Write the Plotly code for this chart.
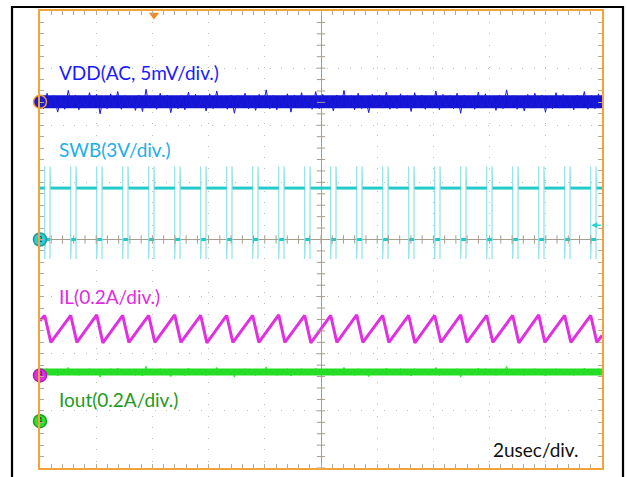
import plotly.graph_objects as go
import numpy as np

# ---- axes: time in µs (2 µs/div, 10 div), vertical in divisions (8 div)
X_RANGE = [-10, 10]
Y_RANGE = [-4, 4]

# ---- SWB switching edges (µs)
swb_fall = [-9.833, -8.907, -7.982, -7.057, -6.132, -5.206, -4.281, -3.356, -2.431, -1.505, -0.580,
            0.345, 1.270, 2.196, 3.121, 4.046, 4.971, 5.897, 6.822, 7.747, 8.672, 9.598]
swb_rise = [-9.644, -8.718, -7.793, -6.868, -5.943, -5.017, -4.092, -3.167, -2.242, -1.316, -0.391,
            0.534, 1.459, 2.385, 3.310, 4.235, 5.160, 6.086, 7.011, 7.936, 8.861, 9.787]
SWB_HIGH = 0.90
SWB_LOW = 0.0
SWB_OVER = 1.28
SWB_UNDER = -0.34

# ---- inductor current (div): peaks at falling edges, valleys at rising edges
il_peak = [-1.33, -1.33, -1.32, -1.33, -1.33, -1.32, -1.33, -1.33, -1.33, -1.32, -1.33,
           -1.33, -1.32, -1.33, -1.33, -1.33, -1.32, -1.33, -1.33, -1.32, -1.33, -1.33]
il_valley = [-1.80, -1.80, -1.81, -1.80, -1.80, -1.80, -1.81, -1.80, -1.80, -1.80, -1.81,
             -1.80, -1.80, -1.80, -1.81, -1.80, -1.80, -1.80, -1.81, -1.80, -1.80, -1.80]
IL_START = -1.42
IL_END = -1.68

# ---- VDD (AC) and Iout levels (div) with noise read as 0.01-div offsets
VDD_LEVEL = 2.41
vdd_noise = [10,-12,15,-9,11,-18,8,-13,20,-10,12,-14,9,-11,16,-8,13,-21,10,-12,
             14,-9,18,-13,11,-10,9,-15,12,-17,22,-11,10,-13,15,-9,12,-19,8,-12,
             11,-14,17,-10,13,-9,10,-16,14,-12,19,-11,9,-13,12,-20,11,-10,15,-12,
             10,-15,13,-9,21,-12,11,-14,9,-10,14,-18,12,-11,16,-9,10,-13,18,-12,
             13,-10,9,-16,12,-11,20,-9,11,-14,15,-12,10,-19,13,-10,12,-11,17,-13,
             9,-12,14,-10,11,-17,16,-9,12,-13,10,-11,19,-14,13,-10,11,-12,15,-20,
             12,-9,10,-13,17,-11,14,-10,9,-15,12,-12,21,-9,11,-13,10,-16,13,-11,
             15,-10,12,-18,9,-12,16,-11,13,-9,10,-14,12,-10,18,-13,11,-12,14,-9]
IOUT_LEVEL = -2.32
iout_noise = [4,-5,6,-3,5,-7,3,-4,8,-5,4,-6,3,-4,6,-3,5,-9,4,-5,
              6,-4,7,-5,4,-3,5,-6,4,-7,10,-4,3,-5,6,-4,5,-8,3,-5,
              4,-6,7,-4,5,-3,4,-6,5,-5,8,-4,3,-5,5,-9,4,-4,6,-5,
              4,-6,5,-3,9,-5,4,-6,3,-4,6,-7,5,-4,6,-3,4,-5,7,-5,
              5,-4,3,-6,5,-4,8,-3,4,-6,6,-5,4,-8,5,-4,5,-4,7,-5,
              3,-5,6,-4,4,-7,6,-3,5,-5,4,-4,8,-6,5,-4,4,-5,6,-9,
              5,-3,4,-5,7,-4,6,-4,3,-6,5,-5,10,-3,4,-5,4,-6,5,-4,
              6,-4,5,-7,3,-5,6,-4,5,-3,4,-6,5,-4,7,-5,4,-5,6,-3]

# ---- channel reference markers (div) and trigger
ch_names = ["1", "2", "3", "4"]
ch_levels = [2.41, 0.0, -2.38, -3.18]
ch_colors = ["#1a1ad8", "#2ccfd6", "#e030e0", "#2ee02e"]
TRIG_TIME = -5.943
TRIG_LEVEL = 0.25

# ---- labels
labels = ["VDD(AC, 5mV/div.)", "SWB(3V/div.)", "IL(0.2A/div.)", "Iout(0.2A/div.)", "2usec/div."]
label_x = [-9.40, -9.40, -9.40, -9.40, 6.05]
label_y = [2.93, 1.58, -1.00, -2.80, -3.68]
label_colors = ["#1a1aff", "#1eaee8", "#e02be0", "#1e9a1e", "#111111"]

FONT = "Lato"
FONT_SIZE = 19

fig = go.Figure()

# VDD
nt = np.linspace(X_RANGE[0], X_RANGE[1], len(vdd_noise))
fig.add_trace(go.Scatter(x=X_RANGE, y=[VDD_LEVEL, VDD_LEVEL], mode="lines",
                         line=dict(color="#1414d2", width=13), hoverinfo="skip"))
fig.add_trace(go.Scatter(x=nt, y=VDD_LEVEL + np.array(vdd_noise) / 100.0, mode="lines",
                         line=dict(color="#1a1ae0", width=1), hoverinfo="skip"))

# SWB
sx, sy = [X_RANGE[0]], [SWB_HIGH]
dx, dy = [X_RANGE[0]], [SWB_HIGH]
for f, r in zip(swb_fall, swb_rise):
    sx += [f, f, f, f + 0.02, r, r, r, r + 0.02]
    sy += [SWB_HIGH, SWB_OVER, SWB_UNDER, SWB_LOW, SWB_LOW, SWB_UNDER, SWB_OVER, SWB_HIGH]
    dx += [f, None, f + 0.02, r, None, r + 0.02]
    dy += [SWB_HIGH, None, SWB_LOW, SWB_LOW, None, SWB_HIGH]
sx.append(X_RANGE[1]); sy.append(SWB_HIGH)
dx.append(X_RANGE[1]); dy.append(SWB_HIGH)
fig.add_trace(go.Scatter(x=sx, y=sy, mode="lines", line=dict(color="#8fe2e4", width=1.2),
                         hoverinfo="skip"))
fig.add_trace(go.Scatter(x=dx, y=dy, mode="lines", line=dict(color="#22cacc", width=3),
                         connectgaps=False, hoverinfo="skip"))

# IL
ix, iy = [X_RANGE[0]], [IL_START]
for f, r, p, v in zip(swb_fall, swb_rise, il_peak, il_valley):
    ix += [f, r + 0.03]
    iy += [p, v]
ix.append(X_RANGE[1]); iy.append(IL_END)
fig.add_trace(go.Scatter(x=ix, y=iy, mode="lines", line=dict(color="#e030e0", width=3),
                         hoverinfo="skip"))

# Iout
nt2 = np.linspace(X_RANGE[0], X_RANGE[1], len(iout_noise))
fig.add_trace(go.Scatter(x=X_RANGE, y=[IOUT_LEVEL, IOUT_LEVEL], mode="lines",
                         line=dict(color="#22dd22", width=7), hoverinfo="skip"))
fig.add_trace(go.Scatter(x=nt2, y=IOUT_LEVEL + np.array(iout_noise) / 100.0, mode="lines",
                         line=dict(color="#30e030", width=1), hoverinfo="skip"))

# centre crosshair minor ticks
yt = np.arange(Y_RANGE[0], Y_RANGE[1] + 1e-9, 0.2)
xt = np.arange(X_RANGE[0], X_RANGE[1] + 1e-9, 0.4)
fig.add_trace(go.Scatter(x=np.zeros_like(yt), y=yt, mode="markers",
                         marker=dict(symbol="line-ew", size=6, line=dict(color="#a89c8c", width=1)),
                         hoverinfo="skip"))
fig.add_trace(go.Scatter(x=xt, y=np.zeros_like(xt), mode="markers",
                         marker=dict(symbol="line-ns", size=6, line=dict(color="#a89c8c", width=1)),
                         hoverinfo="skip"))

# channel markers (+ small arrows for ch2 / ch4)
edge = ["#f0a030", "#1a9aa0", "#b020b0", "#20a020"]
fig.add_trace(go.Scatter(x=[-9.84, -9.84], y=[ch_levels[1], ch_levels[3]], mode="markers",
                         marker=dict(symbol="triangle-right", size=5,
                                     color=[ch_colors[1], ch_colors[3]]),
                         cliponaxis=False, hoverinfo="skip"))
fig.add_trace(go.Scatter(x=[X_RANGE[0]] * 4, y=ch_levels, mode="markers+text",
                         marker=dict(symbol="circle", size=13, color=ch_colors,
                                     line=dict(color=edge, width=1.5)),
                         text=ch_names, textposition="middle center",
                         textfont=dict(size=8, color="#222222", family=FONT),
                         cliponaxis=False, hoverinfo="skip"))
# trigger marker
fig.add_trace(go.Scatter(x=[TRIG_TIME], y=[3.93], mode="markers",
                         marker=dict(symbol="triangle-down", size=9, color="#f08a20"),
                         cliponaxis=False, hoverinfo="skip"))

annotations = []
for txt, x, y, c in zip(labels, label_x, label_y, label_colors):
    annotations.append(dict(x=x, y=y, xref="x", yref="y", text=txt, showarrow=False,
                            xanchor="left", yanchor="middle",
                            font=dict(family=FONT, size=FONT_SIZE, color=c)))
annotations.append(dict(x=9.62, y=TRIG_LEVEL, xref="x", yref="y", text="", showarrow=True,
                        ax=11, ay=0, arrowhead=2, arrowsize=0.8, arrowwidth=1.5,
                        arrowcolor="#2ccfd6"))

axis_common = dict(showticklabels=False, showline=True, linecolor="#f2a33a", linewidth=2,
                   mirror="ticks", ticks="inside", ticklen=4, tickcolor="#b4aa9a",
                   zeroline=True, zerolinecolor="#a89c8c", zerolinewidth=1,
                   showgrid=True, gridcolor="#bdbdbd", gridwidth=1)
fig.update_layout(
    width=627, height=477,
    margin=dict(l=40, r=25, t=9, b=9),
    paper_bgcolor="white", plot_bgcolor="white",
    showlegend=False,
    xaxis=dict(range=X_RANGE, dtick=2, griddash="1px,10.24px",
               minor=dict(dtick=0.4, ticks="inside", ticklen=4, tickcolor="#b4aa9a", showgrid=False),
               **axis_common),
    yaxis=dict(range=Y_RANGE, dtick=1, griddash="1px,10.48px",
               minor=dict(dtick=0.2, ticks="inside", ticklen=4, tickcolor="#b4aa9a", showgrid=False),
               **axis_common),
    annotations=annotations,
    shapes=[dict(type="rect", xref="paper", yref="paper", x0=-0.0498, x1=1.0374,
                 y0=-0.06, y1=1.0087, line=dict(color="black", width=2.2), layer="above")],
)

fig.write_html("out.html", config={"displayModeBar": False, "staticPlot": True},
               post_script="document.body.style.margin='0';document.body.style.overflow='hidden';")
